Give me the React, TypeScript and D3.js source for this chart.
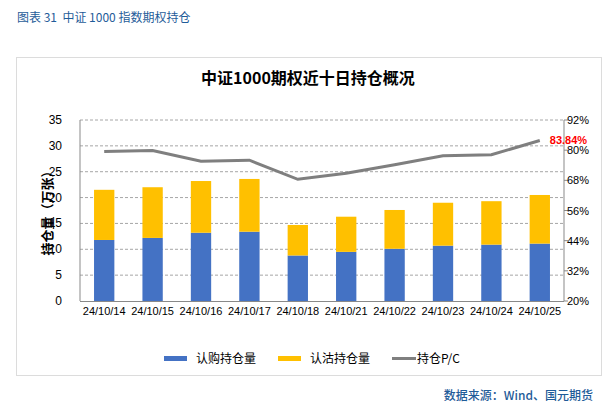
import React, { useEffect, useRef } from 'react';
import * as d3 from 'd3';

const dates = ['24/10/14', '24/10/15', '24/10/16', '24/10/17', '24/10/18', '24/10/21', '24/10/22', '24/10/23', '24/10/24', '24/10/25'];
const callOI = [11.8, 12.2, 13.2, 13.4, 8.8, 9.5, 10.1, 10.7, 10.9, 11.1];
const putOI = [9.7, 9.8, 10.0, 10.2, 5.9, 6.8, 7.5, 8.3, 8.4, 9.4];
const pcRatio = [79.5, 79.9, 75.6, 76.0, 68.4, 70.8, 74.2, 77.8, 78.2, 83.84];
const leftTicks = [0, 5, 10, 15, 20, 25, 30, 35];
const rightTicks = [20, 32, 44, 56, 68, 80, 92];

const font = 'Arial, "Liberation Sans", "Noto Sans CJK SC", sans-serif';
const cjk = '"Noto Sans CJK SC", "Microsoft YaHei", sans-serif';

const App: React.FC = () => {
  const svgRef = useRef<SVGSVGElement>(null);

  useEffect(() => {
    if (!svgRef.current) return;
    const svg = d3.select(svgRef.current);
    svg.selectAll('*').remove();

    const left = 80, right = 564, top = 120, bottom = 301;

    // page header + frame
    svg.append('text').attr('x', 17).attr('y', 22).attr('font-family', cjk).attr('font-size', 12)
      .attr('fill', '#1f5c99').style('white-space', 'pre').text('图表 31  中证 1000 指数期权持仓');
    svg.append('rect').attr('x', 16.5).attr('y', 57.5).attr('width', 585).attr('height', 318)
      .attr('fill', 'white').attr('stroke', '#dcdcdc');
    svg.append('text').attr('x', 593).attr('y', 400).attr('text-anchor', 'end').attr('font-family', cjk)
      .attr('font-size', 12).attr('font-weight', 500).attr('fill', '#1f5c99').text('数据来源：Wind、国元期货');

    svg.append('text').attr('x', 308).attr('y', 84).attr('text-anchor', 'middle').attr('font-family', cjk)
      .attr('font-size', 16).attr('font-weight', 'bold').attr('fill', '#000').text('中证1000期权近十日持仓概况');

    const x = d3.scaleBand<string>().domain(dates).range([left, right]).paddingInner(0.58).paddingOuter(0.29);
    const y = d3.scaleLinear().domain([0, 35]).range([bottom, top]);
    const y2 = d3.scaleLinear().domain([20, 92]).range([bottom, top]);

    // gridlines
    svg.append('g').selectAll('line').data(leftTicks.slice(1)).enter().append('line')
      .attr('x1', left).attr('x2', right).attr('y1', d => y(d)).attr('y2', d => y(d))
      .attr('stroke', '#a6a6a6').attr('stroke-dasharray', '3,2');

    // bars
    const g = svg.append('g');
    dates.forEach((d, i) => {
      g.append('rect').attr('x', x(d)!).attr('width', x.bandwidth())
        .attr('y', y(callOI[i])).attr('height', y(0) - y(callOI[i])).attr('fill', '#4472c4');
      g.append('rect').attr('x', x(d)!).attr('width', x.bandwidth())
        .attr('y', y(callOI[i] + putOI[i])).attr('height', y(callOI[i]) - y(callOI[i] + putOI[i])).attr('fill', '#ffc000');
    });

    // axes
    const axisColor = '#898989';
    svg.append('line').attr('x1', left).attr('x2', left).attr('y1', top).attr('y2', bottom).attr('stroke', axisColor);
    svg.append('line').attr('x1', right).attr('x2', right).attr('y1', top).attr('y2', bottom).attr('stroke', axisColor);
    svg.append('line').attr('x1', left).attr('x2', right).attr('y1', bottom + 0.5).attr('y2', bottom + 0.5).attr('stroke', axisColor);

    svg.append('g').selectAll('text').data(leftTicks).enter().append('text')
      .attr('x', 62).attr('y', d => y(d) + 4).attr('text-anchor', 'end')
      .attr('font-family', font).attr('font-size', 12).attr('fill', '#000').text(d => d);

    svg.append('g').selectAll('line').data(rightTicks).enter().append('line')
      .attr('x1', right).attr('x2', right + 4).attr('y1', d => y2(d)).attr('y2', d => y2(d)).attr('stroke', axisColor);
    svg.append('g').selectAll('text').data(rightTicks).enter().append('text')
      .attr('x', 567).attr('y', d => y2(d) + 4)
      .attr('font-family', font).attr('font-size', 11).attr('fill', '#000').text(d => `${d}%`);

    svg.append('g').selectAll('text').data(dates).enter().append('text')
      .attr('x', d => x(d)! + x.bandwidth() / 2).attr('y', 315).attr('text-anchor', 'middle')
      .attr('font-family', font).attr('font-size', 11).attr('fill', '#000').text(d => d);

    svg.append('text').attr('transform', `translate(52, 210) rotate(-90)`).attr('text-anchor', 'middle')
      .attr('font-family', cjk).attr('font-size', 13).attr('font-weight', 'bold').attr('fill', '#000')
      .text('持仓量（万张）');

    // P/C line
    const line = d3.line<number>()
      .x((_, i) => x(dates[i])! + x.bandwidth() / 2)
      .y(d => y2(d));
    svg.append('path').datum(pcRatio).attr('d', line).attr('fill', 'none')
      .attr('stroke', '#7f7f7f').attr('stroke-width', 3);

    const last = pcRatio.length - 1;
    svg.append('text').attr('x', x(dates[last])! + x.bandwidth() / 2 + 10).attr('y', y2(pcRatio[last]) + 3)
      .attr('font-family', font).attr('font-size', 11).attr('font-weight', 'bold').attr('fill', '#ff0000')
      .text(`${pcRatio[last].toFixed(2)}%`);

    // legend
    const lg = svg.append('g');
    lg.append('rect').attr('x', 164).attr('y', 356).attr('width', 23).attr('height', 5).attr('fill', '#4472c4');
    lg.append('text').attr('x', 196).attr('y', 363).attr('font-family', cjk).attr('font-size', 12).text('认购持仓量');
    lg.append('rect').attr('x', 278).attr('y', 356).attr('width', 23).attr('height', 5).attr('fill', '#ffc000');
    lg.append('text').attr('x', 310).attr('y', 363).attr('font-family', cjk).attr('font-size', 12).text('认沽持仓量');
    lg.append('line').attr('x1', 392).attr('x2', 416).attr('y1', 358.5).attr('y2', 358.5)
      .attr('stroke', '#7f7f7f').attr('stroke-width', 3);
    lg.append('text').attr('x', 417).attr('y', 363).attr('font-family', cjk).attr('font-size', 12).text('持仓P/C');
  }, []);

  return <svg ref={svgRef} width={616} height={416} style={{ position: 'absolute', left: 0, top: 0 }} />;
};

export default App;
